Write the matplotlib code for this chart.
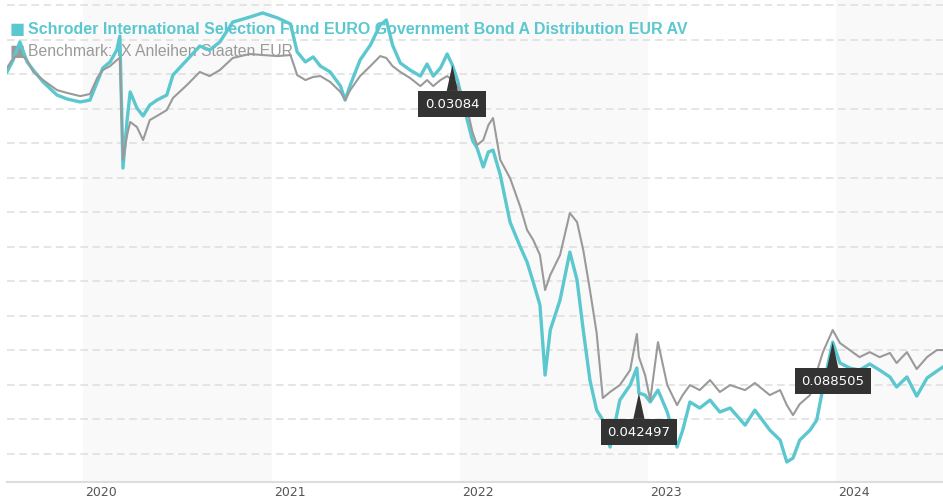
import matplotlib
matplotlib.use("Agg")
import matplotlib.pyplot as plt
import matplotlib.dates as mdates
import matplotlib.transforms as mtransforms
import numpy as np
import pandas as pd

# --- data (indexed value) ---
dates = [
    "2019-08-06", "2019-08-18", "2019-08-31", "2019-09-14", "2019-09-26", "2019-10-15",
    "2019-11-11", "2019-12-01", "2019-12-26", "2020-01-14", "2020-01-28", "2020-02-08",
    "2020-02-22", "2020-03-06", "2020-03-12", "2020-03-18", "2020-03-26", "2020-04-01",
    "2020-04-14", "2020-04-26", "2020-05-09", "2020-05-23", "2020-06-11", "2020-06-23",
    "2020-07-20", "2020-08-14", "2020-09-02", "2020-09-22", "2020-10-17", "2020-11-19",
    "2020-12-14", "2021-01-12", "2021-02-06", "2021-02-19", "2021-03-07", "2021-03-22",
    "2021-04-05", "2021-04-24", "2021-05-14", "2021-05-23", "2021-06-02", "2021-06-21",
    "2021-07-11", "2021-07-30", "2021-08-11", "2021-08-23", "2021-09-07", "2021-09-26",
    "2021-10-16", "2021-10-29", "2021-11-10", "2021-11-24", "2021-12-07", "2021-12-17",
    "2021-12-27", "2022-01-11", "2022-01-25", "2022-02-03", "2022-02-15", "2022-02-25",
    "2022-03-06", "2022-03-20", "2022-04-08", "2022-04-28", "2022-05-11", "2022-05-23",
    "2022-06-05", "2022-06-15", "2022-06-25", "2022-07-14", "2022-08-02", "2022-08-16",
    "2022-08-28", "2022-09-10", "2022-09-23", "2022-10-05", "2022-10-19", "2022-11-07",
    "2022-11-27", "2022-12-10", "2022-12-14", "2022-12-26", "2023-01-05", "2023-01-20",
    "2023-02-07", "2023-02-26", "2023-03-09", "2023-03-23", "2023-04-11", "2023-05-01",
    "2023-05-20", "2023-06-09", "2023-07-08", "2023-07-27", "2023-08-25", "2023-09-14",
    "2023-09-27", "2023-10-09", "2023-10-22", "2023-11-11", "2023-11-24", "2023-12-06",
    "2023-12-25", "2024-01-08", "2024-01-27", "2024-02-15", "2024-03-06", "2024-03-25",
    "2024-04-14", "2024-04-27", "2024-05-17", "2024-06-05", "2024-06-25", "2024-07-14",
    "2024-07-26",
]
fund = [
    100.12, 100.81, 101.86, 100.70, 100.23, 99.54,
    98.78, 98.55, 98.38, 98.49, 99.54, 100.35,
    100.70, 101.39, 102.20, 94.55, 97.33, 98.96,
    98.03, 97.57, 98.20, 98.49, 98.78, 99.94,
    100.81, 101.62, 101.39, 101.86, 103.01, 103.30,
    103.54, 103.25, 102.90, 101.28, 100.70, 100.99,
    100.46, 100.12, 99.30, 98.49, 99.36, 100.81,
    101.68, 102.84, 103.13, 101.68, 100.64, 100.23,
    99.88, 100.58, 99.88, 100.35, 101.16, 100.52,
    99.65, 97.80, 96.17, 95.71, 94.61, 95.48,
    95.59, 94.15, 91.42, 89.97, 89.10, 87.94,
    86.61, 82.55, 85.16, 86.90, 89.68, 88.06,
    85.16, 82.26, 80.52, 79.94, 78.38, 81.10,
    81.97, 82.96, 81.51, 81.39, 80.99, 81.68,
    80.41, 78.38, 79.36, 80.99, 80.64, 81.10,
    80.41, 80.64, 79.65, 80.52, 79.36, 78.78,
    77.51, 77.74, 78.78, 79.36, 79.94, 81.80,
    84.46, 83.25, 82.96, 82.84, 83.19, 82.84,
    82.44, 81.86, 82.44, 81.33, 82.38, 82.78,
    83.02,
]
benchmark = [
    100.35, 100.93, 101.16, 100.81, 100.12, 99.65,
    99.07, 98.90, 98.72, 98.84, 99.77, 100.23,
    100.46, 100.81, 100.93, 95.02, 96.46, 97.22,
    96.93, 96.17, 97.33, 97.57, 97.91, 98.61,
    99.36, 100.12, 99.88, 100.23, 100.93, 101.16,
    101.10, 101.04, 101.10, 99.94, 99.65, 99.83,
    99.88, 99.54, 98.96, 98.49, 99.07, 99.88,
    100.46, 101.04, 100.93, 100.46, 100.12, 99.77,
    99.30, 99.65, 99.30, 99.65, 99.88, 99.65,
    99.30, 98.49, 96.64, 95.88, 96.17, 97.04,
    97.45, 95.02, 93.97, 92.29, 90.96, 90.38,
    89.51, 87.48, 88.35, 89.51, 91.94, 91.42,
    89.80, 87.48, 84.99, 81.22, 81.57, 81.97,
    82.84, 84.93, 83.60, 82.55, 81.10, 84.46,
    81.97, 80.81, 81.39, 81.97, 81.68, 82.26,
    81.57, 81.97, 81.68, 82.09, 81.39, 81.68,
    80.81, 80.23, 80.87, 81.39, 82.73, 83.88,
    85.16, 84.41, 84.00, 83.59, 83.88, 83.59,
    83.83, 83.25, 83.88, 82.90, 83.59, 84.00,
    84.00,
]

# distribution markers
dist_dates = ["2021-12-17", "2022-12-14", "2023-12-25"]
dist_labels = ["0.03084", "0.042497", "0.088505"]

fund_name = "Schroder International Selection Fund EURO Government Bond A Distribution EUR AV"
bench_name = "Benchmark: IX Anleihen Staaten EUR"

FUND_COLOR = "#5bc7cf"
BENCH_COLOR = "#9a9a9a"

x = pd.to_datetime(dates)

fig = plt.figure(figsize=(9.43, 5.0), dpi=100)
ax = fig.add_axes([7 / 943, 1 - 481.7 / 500, 1 - 7 / 943, 481.7 / 500])

# alternating year bands
for yr in (2020, 2022, 2024):
    ax.axvspan(pd.Timestamp(f"{yr}-01-01"), pd.Timestamp(f"{yr + 1}-01-01"),
               color="#f9f9f9", zorder=0, lw=0)

ax.plot(x, fund, color=FUND_COLOR, lw=2.4, zorder=3, solid_joinstyle="round")
ax.plot(x, benchmark, color=BENCH_COLOR, lw=1.5, zorder=4, solid_joinstyle="round")

ax.set_xlim(pd.Timestamp("2019-08-06"), pd.Timestamp("2024-07-26"))
ax.set_ylim(76.37, 104.29)

ax.set_yticks(np.arange(78, 105, 2))
ax.yaxis.grid(True, color="#dedede", linestyle=(0, (5, 3)), lw=1.1, zorder=1)
ax.tick_params(axis="y", left=False, labelleft=False)

ax.xaxis.set_major_locator(mdates.YearLocator())
ax.xaxis.set_major_formatter(mdates.DateFormatter("%Y"))
ax.tick_params(axis="x", length=0, pad=3, labelsize=9, colors="#555555")
offset = mtransforms.ScaledTranslation(2 / 100, 0, fig.dpi_scale_trans)
for lab in ax.get_xticklabels():
    lab.set_ha("left")
    lab.set_transform(lab.get_transform() + offset)

for side in ("left", "right", "top"):
    ax.spines[side].set_visible(False)
ax.spines["bottom"].set_color("#dddddd")
ax.spines["bottom"].set_linewidth(1.5)

# legend drawn underneath the lines
ax.text(3 / 936, 1 - 30 / 481.7, "■", transform=ax.transAxes, color=FUND_COLOR,
        fontsize=11.5, va="center", ha="left", zorder=2)
ax.text(21 / 936, 1 - 29 / 481.7, fund_name, transform=ax.transAxes, color=FUND_COLOR,
        fontsize=11.5, fontweight="bold", family="Liberation Sans",
        va="center", ha="left", zorder=2)
ax.text(3 / 936, 1 - 52 / 481.7, "■", transform=ax.transAxes, color=BENCH_COLOR,
        fontsize=11.5, va="center", ha="left", zorder=2)
ax.text(21 / 936, 1 - 52 / 481.7, bench_name, transform=ax.transAxes, color=BENCH_COLOR,
        fontsize=11.3, family="Liberation Sans", va="center", ha="left", zorder=2)

# distribution callouts
xnum = mdates.date2num(x)
for d, lab in zip(dist_dates, dist_labels):
    dn = mdates.date2num(pd.Timestamp(d))
    yv = np.interp(dn, xnum, fund)
    ax.annotate(lab, xy=(dn, yv), xytext=(0, -39), textcoords="offset pixels",
                ha="center", va="center", color="white", fontsize=9.5, zorder=6,
                bbox=dict(boxstyle="square,pad=0.5", fc="#333333", ec="none"),
                arrowprops=dict(arrowstyle="wedge,tail_width=0.85,shrink_factor=0.5",
                                fc="#333333", ec="none", shrinkA=0, shrinkB=0))

fig.savefig("out.png", dpi=100)
plt.close(fig)
